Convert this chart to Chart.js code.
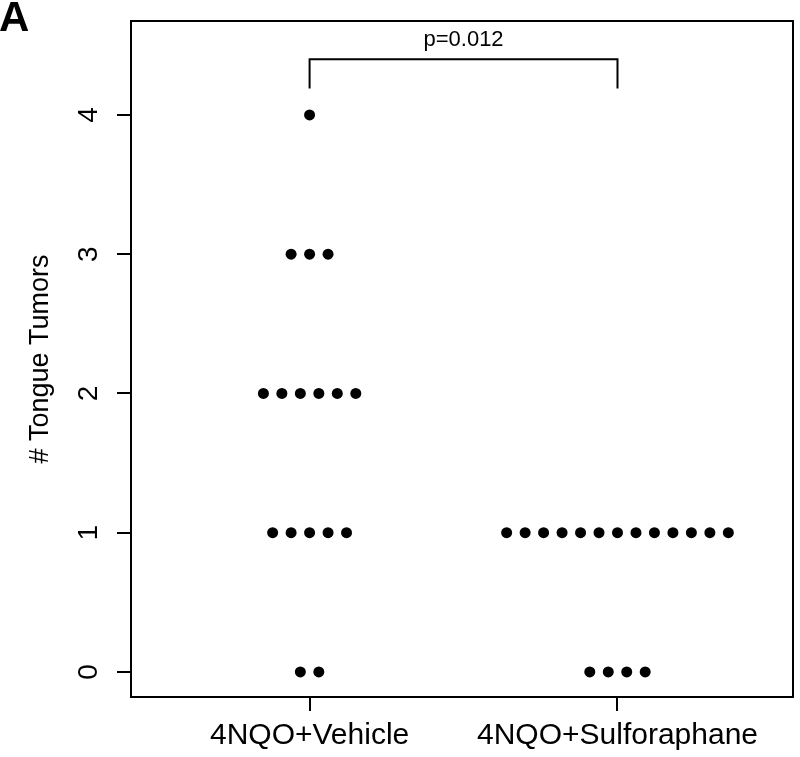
<!DOCTYPE html>
<html>
<head>
<meta charset="utf-8">
<script src="https://cdn.jsdelivr.net/npm/chart.js@4/dist/chart.umd.min.js"></script>
<style>
  html, body { margin: 0; padding: 0; background: #fff; }
  #wrap { width: 800px; height: 757px; }
</style>
</head>
<body>
<div id="wrap"><canvas id="c" width="800" height="757"></canvas></div>
<script>
// ---- data ----
const categories = ['4NQO+Vehicle', '4NQO+Sulforaphane'];
const vehicleTumors = [4, 3, 3, 3, 2, 2, 2, 2, 2, 2, 1, 1, 1, 1, 1, 0, 0];
const sulforaphaneTumors = [1, 1, 1, 1, 1, 1, 1, 1, 1, 1, 1, 1, 1, 0, 0, 0, 0];
const yTickValues = [0, 1, 2, 3, 4];
const yAxisTitle = '# Tongue Tumors';
const pValueLabel = 'p=0.012';
const panelLabel = 'A';
const bracketBottom = 4.19;
const bracketTop = 4.40;
const pLabelY = 4.55;

// ---- layout helpers ----
const FONT = "'Liberation Sans', Arial, Helvetica, sans-serif";
const DOT_STEP = 0.06;

function swarm(values, center) {
  const counts = {};
  values.forEach(v => { counts[v] = (counts[v] || 0) + 1; });
  const pts = [];
  Object.keys(counts).forEach(k => {
    const n = counts[k];
    for (let i = 0; i < n; i++) {
      pts.push({ x: center + (i - (n - 1) / 2) * DOT_STEP, y: Number(k) });
    }
  });
  return pts;
}

const bracketData = [
  { x: 1, y: bracketBottom }, { x: 1, y: bracketTop },
  { x: 2, y: bracketTop }, { x: 2, y: bracketBottom }
];

const extrasPlugin = {
  id: 'extras',
  afterDraw(chart) {
    const { ctx, chartArea, scales } = chart;
    ctx.save();
    // box
    ctx.strokeStyle = '#000';
    ctx.lineWidth = 2;
    ctx.strokeRect(chartArea.left, chartArea.top, chartArea.right - chartArea.left, chartArea.bottom - chartArea.top);
    // p-value
    ctx.fillStyle = '#000';
    ctx.font = '22px ' + FONT;
    ctx.textAlign = 'center';
    ctx.textBaseline = 'alphabetic';
    ctx.fillText(pValueLabel, scales.x.getPixelForValue(1.5), scales.y.getPixelForValue(pLabelY) + 8);
    // panel label
    ctx.font = 'bold 42px ' + FONT;
    ctx.textAlign = 'left';
    ctx.textBaseline = 'alphabetic';
    ctx.fillText(panelLabel, -1, 31);
    ctx.restore();
  }
};

new Chart(document.getElementById('c'), {
  type: 'scatter',
  data: {
    datasets: [
      {
        label: categories[0],
        data: swarm(vehicleTumors, 1),
        pointRadius: 5.5, pointBackgroundColor: '#000', pointBorderWidth: 0, pointHoverRadius: 5.5
      },
      {
        label: categories[1],
        data: swarm(sulforaphaneTumors, 2),
        pointRadius: 5.5, pointBackgroundColor: '#000', pointBorderWidth: 0, pointHoverRadius: 5.5
      },
      {
        label: 'bracket',
        data: bracketData,
        showLine: true, borderColor: '#000', borderWidth: 2, pointRadius: 0, tension: 0
      }
    ]
  },
  options: {
    responsive: false,
    devicePixelRatio: 1,
    animation: false,
    clip: false,
    layout: { padding: { left: 0, right: 7, top: 21, bottom: 0 } },
    plugins: { legend: { display: false }, tooltip: { enabled: false } },
    scales: {
      x: {
        type: 'linear',
        min: 0.42, max: 2.57,
        afterBuildTicks: (s) => { s.ticks = categories.map((c, i) => ({ value: i + 1 })); },
        afterFit: (s) => { s.height = 60; s.paddingLeft = 0; s.paddingRight = 0; },
        border: { display: false },
        grid: { display: true, drawOnChartArea: false, drawTicks: true, tickLength: 14, color: '#000', lineWidth: 2 },
        ticks: {
          color: '#000', font: { family: FONT, size: 30 }, padding: 7, maxRotation: 0, minRotation: 0,
          callback: (v) => categories[Math.round(v) - 1] || ''
        }
      },
      y: {
        type: 'linear',
        min: -0.18, max: 4.675,
        afterBuildTicks: (s) => { s.ticks = yTickValues.map(v => ({ value: v })); },
        afterFit: (s) => { s.width = 131; s.paddingTop = 0; s.paddingBottom = 0; },
        border: { display: false },
        grid: { display: true, drawOnChartArea: false, drawTicks: true, tickLength: 14, color: '#000', lineWidth: 2 },
        ticks: {
          color: '#000', font: { family: FONT, size: 28 }, padding: 20,
          minRotation: 90, maxRotation: 90, crossAlign: 'center',
          callback: (v) => String(v)
        },
        title: {
          display: true, text: yAxisTitle, color: '#000',
          font: { family: FONT, size: 27 }, padding: { top: 24, bottom: 0 }
        }
      }
    }
  },
  plugins: [extrasPlugin]
});
</script>
</body>
</html>
